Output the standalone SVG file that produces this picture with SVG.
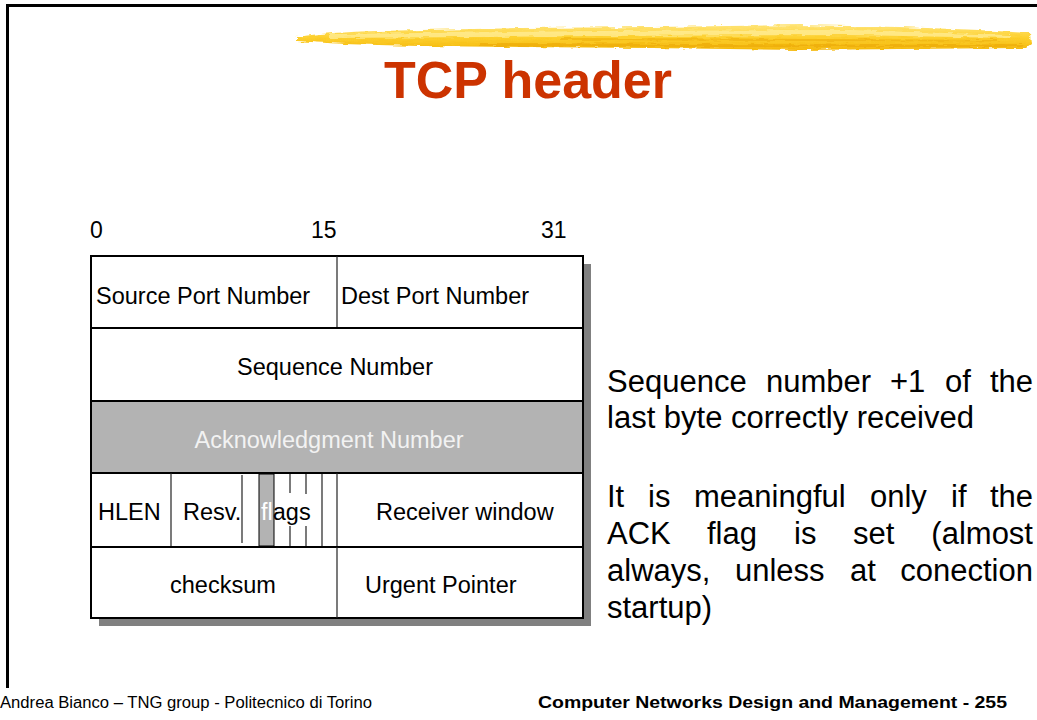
<svg xmlns="http://www.w3.org/2000/svg" width="1037" height="720" viewBox="0 0 1037 720">
<defs>
<linearGradient id="brush" x1="0" y1="0" x2="0" y2="1">
<stop offset="0" stop-color="#FFE57A"/>
<stop offset="0.5" stop-color="#FDD02E"/>
<stop offset="1" stop-color="#F4B80C"/>
</linearGradient>
<filter id="rough" x="-2%" y="-40%" width="104%" height="180%">
<feTurbulence type="fractalNoise" baseFrequency="0.08 0.5" numOctaves="2" seed="3" result="n"/>
<feDisplacementMap in="SourceGraphic" in2="n" scale="5" xChannelSelector="R" yChannelSelector="G"/>
</filter>
<style>
.t{font-family:"Liberation Sans",Arial,sans-serif;font-size:23.5px;fill:#000}
.n{font-family:"Liberation Sans",Arial,sans-serif;font-size:23px;fill:#000}
.p{font-family:"Liberation Sans",Arial,sans-serif;font-size:31px;fill:#000}
.f{font-family:"Liberation Sans",Arial,sans-serif;font-size:16px;fill:#000}
.cell{fill:#fff;stroke:#000;stroke-width:2}
.grey{fill:#B3B3B3;stroke:#000;stroke-width:2}
.thin{stroke:#222;stroke-width:1.2;fill:none}
</style>
</defs>
<rect width="1037" height="720" fill="#fff"/>
<!-- slide frame -->
<path d="M7.5,688 V5.5 H1037" fill="none" stroke="#000" stroke-width="3"/>
<!-- brush stroke -->
<g id="brush-stroke" filter="url(#rough)">
<path d="M297,37 C320,33 360,31 420,30 L520,28 L650,27 L800,25 L900,27 L980,30 L1030,33 L1031,44 L1026,48 L900,49 L800,50 L650,48 L520,47 L420,46 C360,45 320,43 297,41 Z" fill="url(#brush)"/>
<path d="M330,34 L600,31 L850,30 L1010,35 L1010,38 L850,35 L600,36 L330,38 Z" fill="#FFEFA0" opacity="0.7"/>
<path d="M480,43 L700,44 L950,45 L1025,44 L1022,47 L900,47 L700,47 L480,46 Z" fill="#EAA400" opacity="0.55"/>
<path d="M560,38 L800,39 L1000,40 L1000,41.5 L800,41 L560,40 Z" fill="#E9A800" opacity="0.5"/>
</g>
<!-- title -->
<text id="title" x="384" y="98" font-family="Liberation Sans,Arial,sans-serif" font-weight="bold" font-size="52" fill="#CC3300" textLength="288" lengthAdjust="spacingAndGlyphs">TCP header</text>
<!-- bit indices -->
<g id="bit-scale">
<text class="n" x="90" y="238">0</text>
<text class="n" x="311" y="238">15</text>
<text class="n" x="541" y="238">31</text>
</g>
<!-- shadow -->
<rect x="99" y="264" width="492" height="362" fill="#808080"/>
<g id="header-table">
<g id="row-ports">
<rect class="cell" x="91" y="256" width="492" height="72"/>
<line class="thin" x1="337" y1="256" x2="337" y2="328"/>
<text class="t" x="96" y="304">Source Port Number</text>
<text class="t" x="341" y="304">Dest Port Number</text>
</g>
<g id="row-seq">
<rect class="cell" x="91" y="328" width="492" height="73"/>
<text class="t" x="335" y="375" text-anchor="middle">Sequence Number</text>
</g>
<g id="row-ack">
<rect class="grey" x="91" y="401" width="492" height="72"/>
<text class="t" x="329" y="448" text-anchor="middle" style="fill:#F2F2F2">Acknowledgment Number</text>
</g>
<g id="row-flags">
<rect class="cell" x="91" y="473" width="492" height="74"/>
<rect x="259" y="474" width="15" height="72" fill="#B3B3B3" stroke="#000" stroke-width="1"/>
<line class="thin" x1="171" y1="473" x2="171" y2="547"/>
<line class="thin" x1="242" y1="475" x2="242" y2="543"/>
<line class="thin" x1="290" y1="474" x2="290" y2="493"/>
<line class="thin" x1="290" y1="526" x2="290" y2="546"/>
<line class="thin" x1="306" y1="474" x2="306" y2="494"/>
<line class="thin" x1="306" y1="526" x2="306" y2="546"/>
<line class="thin" x1="322" y1="474" x2="322" y2="546"/>
<line class="thin" x1="337" y1="473" x2="337" y2="547"/>
<text class="t" x="98" y="520">HLEN</text>
<text class="t" x="183" y="520">Resv.</text>
<text class="t" x="261" y="520"><tspan style="fill:#fff">fl</tspan>ags</text>
<text class="t" x="376" y="520">Receiver window</text>
</g>
<g id="row-checksum">
<rect class="cell" x="91" y="547" width="492" height="71"/>
<line class="thin" x1="337" y1="547" x2="337" y2="618"/>
<text class="t" x="170" y="593">checksum</text>
<text class="t" x="365" y="593">Urgent Pointer</text>
</g>
</g>
<!-- explanation -->
<g id="explanation">
<text class="p" x="607" y="392">Sequence</text>
<text class="p" x="766" y="392">number</text>
<text class="p" x="890" y="392">+1</text>
<text class="p" x="945" y="392">of</text>
<text class="p" x="1033" y="392" text-anchor="end">the</text>
<text class="p" x="607" y="428">last byte correctly received</text>
<text class="p" x="607" y="507">It</text>
<text class="p" x="648" y="507">is</text>
<text class="p" x="694" y="507">meaningful</text>
<text class="p" x="870" y="507">only</text>
<text class="p" x="951" y="507">if</text>
<text class="p" x="1033" y="507" text-anchor="end">the</text>
<text class="p" x="607" y="544">ACK</text>
<text class="p" x="707" y="544">flag</text>
<text class="p" x="794" y="544">is</text>
<text class="p" x="853" y="544">set</text>
<text class="p" x="1033" y="544" text-anchor="end">(almost</text>
<text class="p" x="607" y="581">always,</text>
<text class="p" x="735" y="581">unless</text>
<text class="p" x="850" y="581">at</text>
<text class="p" x="1033" y="581" text-anchor="end">conection</text>
<text class="p" x="607" y="618">startup)</text>
</g>
<!-- footer -->
<g id="footer">
<text class="f" x="0" y="708" textLength="372" lengthAdjust="spacingAndGlyphs">Andrea Bianco – TNG group - Politecnico di Torino</text>
<text class="f" x="538" y="708" font-weight="bold" textLength="469" lengthAdjust="spacingAndGlyphs">Computer Networks Design and Management - 255</text>
</g>
</svg>
